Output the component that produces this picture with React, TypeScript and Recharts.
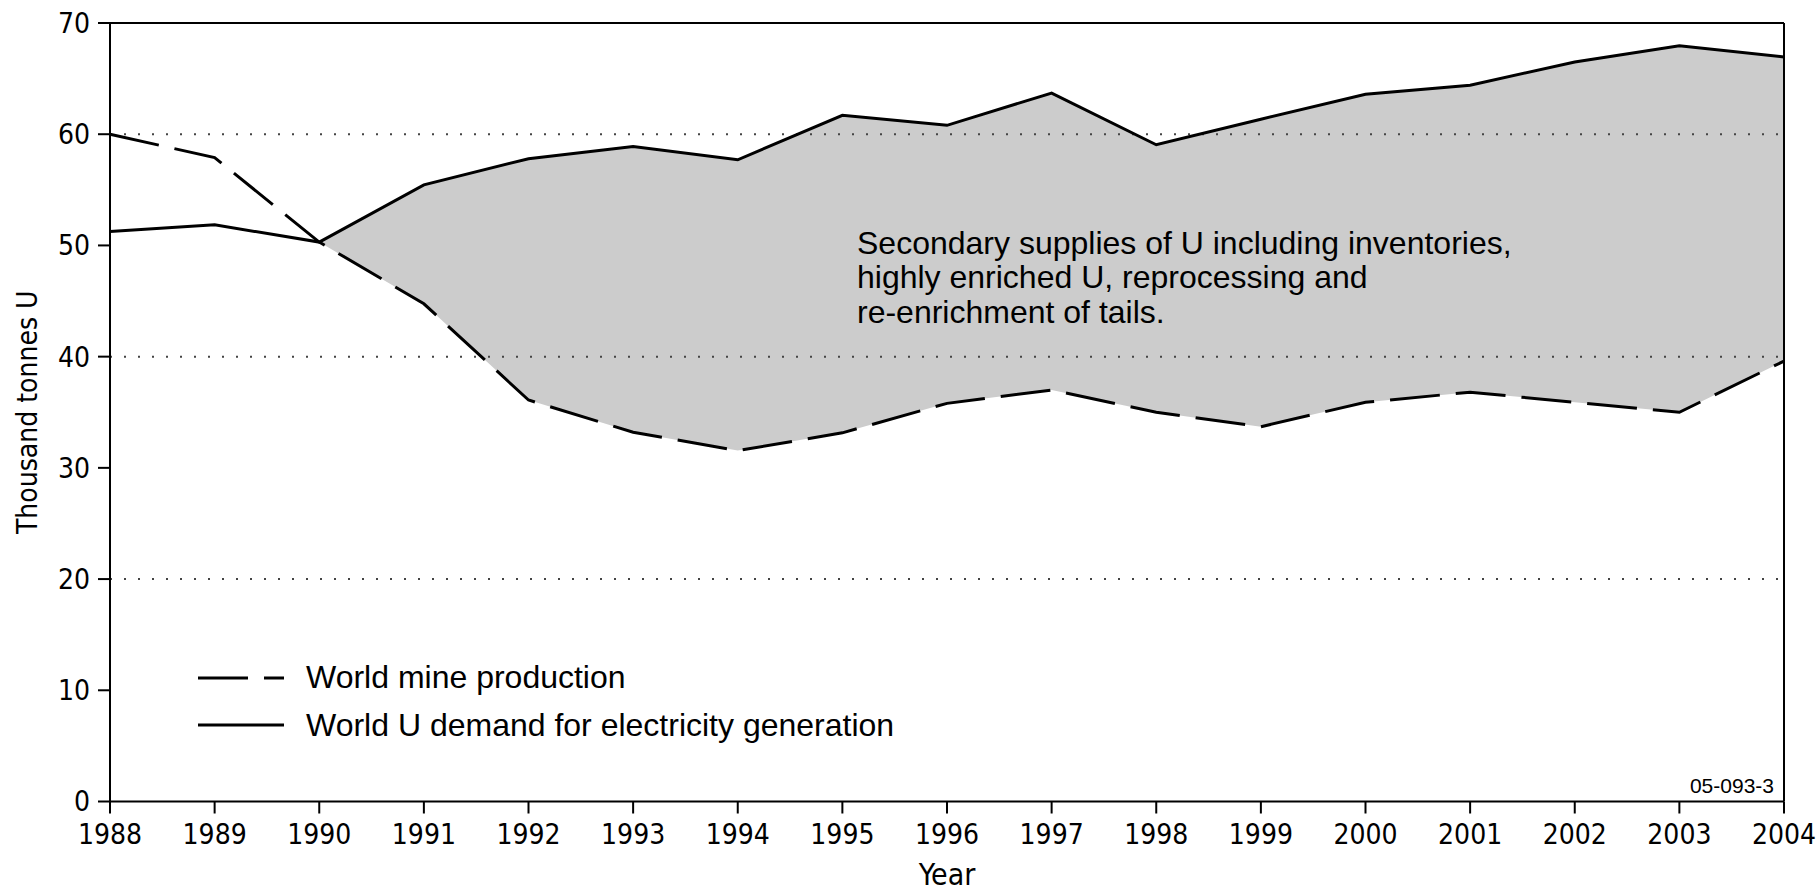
import {
  Area,
  ComposedChart,
  Legend,
  Line,
  ReferenceLine,
  XAxis,
  YAxis,
} from "recharts";

const years = [
  1988, 1989, 1990, 1991, 1992, 1993, 1994, 1995, 1996, 1997, 1998, 1999, 2000,
  2001, 2002, 2003, 2004,
];
const mineProduction = [
  60.0, 57.9, 50.3, 44.75, 36.1, 33.2, 31.55, 33.15, 35.8, 37.0, 35.0, 33.7,
  35.9, 36.8, 35.9, 35.0, 39.6,
];
const demandForElectricity = [
  51.25, 51.85, 50.3, 55.45, 57.8, 58.9, 57.7, 61.7, 60.8, 63.7, 59.05, 61.35,
  63.6, 64.4, 66.5, 67.95, 66.95,
];
const yTicks = [0, 10, 20, 30, 40, 50, 60, 70];
const dottedGridValues = [20, 40, 60];

const productionName = "World mine production";
const demandName = "World U demand for electricity generation";
const noteLines = [
  "Secondary supplies of U including inventories,",
  "highly enriched U, reprocessing and",
  "re-enrichment of tails.",
];
const figureId = "05-093-3";

const NARROW = '"Liberation Sans Narrow", "Arial Narrow", "DejaVu Sans Condensed", sans-serif';
const SANS = '"Liberation Sans", Arial, Helvetica, sans-serif';
const PRODUCTION_DASH = "50 16";

const chartData = years.map((year, i) => ({
  year,
  production: mineProduction[i],
  demand: demandForElectricity[i],
  // shaded band only where demand runs above mine production
  secondary:
    demandForElectricity[i] >= mineProduction[i]
      ? [mineProduction[i], demandForElectricity[i]]
      : null,
}));

function LegendBox({ payload }: { payload?: any[] }) {
  const order = [productionName, demandName];
  const items = (payload ?? [])
    .filter((p) => order.includes(p.value))
    .sort((a, b) => order.indexOf(a.value) - order.indexOf(b.value));
  return (
    <div>
      {items.map((entry) => {
        const dash =
          entry.payload?.strokeDasharray ??
          (entry.value === productionName ? PRODUCTION_DASH : undefined);
        return (
          <div
            key={entry.value}
            style={{ display: "flex", alignItems: "center", height: 47.5 }}
          >
            <svg width={86} height={6} style={{ display: "block" }}>
              <line
                x1={0}
                y1={3}
                x2={86}
                y2={3}
                stroke="#000"
                strokeWidth={3}
                strokeDasharray={dash}
              />
            </svg>
            <span
              style={{
                marginLeft: 22,
                fontFamily: SANS,
                fontSize: 32,
                lineHeight: "47.5px",
                color: "#000",
                whiteSpace: "nowrap",
              }}
            >
              {entry.value}
            </span>
          </div>
        );
      })}
    </div>
  );
}

export default function App() {
  return (
    <div
      style={{
        position: "absolute",
        left: 0,
        top: 0,
        width: 1816,
        height: 892,
        background: "#fff",
      }}
    >
      <ComposedChart
        width={1816}
        height={892}
        data={chartData}
        margin={{ top: 23, right: 32, bottom: 0, left: 0 }}
      >
        <XAxis
          dataKey="year"
          type="number"
          domain={[1988, 2004]}
          ticks={years}
          interval={0}
          height={90.5}
          tickSize={12}
          tickMargin={11}
          axisLine={{ stroke: "#000", strokeWidth: 2 }}
          tickLine={{ stroke: "#000", strokeWidth: 2 }}
          tick={{ fontSize: 28, fontFamily: NARROW, fill: "#000" }}
          label={{
            value: "Year",
            position: "insideBottom",
            offset: 7.5,
            fontSize: 30,
            fontFamily: NARROW,
            fill: "#000",
          }}
        />
        <YAxis
          type="number"
          domain={[0, 70]}
          ticks={yTicks}
          interval={0}
          width={110}
          tickSize={12}
          tickMargin={8}
          axisLine={{ stroke: "#000", strokeWidth: 2 }}
          tickLine={{ stroke: "#000", strokeWidth: 2 }}
          tick={{ fontSize: 28, fontFamily: NARROW, fill: "#000" }}
          label={{
            value: "Thousand tonnes U",
            angle: -90,
            position: "insideLeft",
            offset: 27,
            fontSize: 28,
            fontFamily: NARROW,
            fill: "#000",
            style: { textAnchor: "middle" },
          }}
        />
        <Area
          dataKey="secondary"
          type="linear"
          stroke="none"
          fill="#cccccc"
          fillOpacity={1}
          legendType="none"
          activeDot={false}
          isAnimationActive={false}
        />
        {dottedGridValues.map((v) => (
          <ReferenceLine
            key={v}
            y={v}
            stroke="#444"
            strokeWidth={2}
            strokeDasharray="2 12"
          />
        ))}
        <ReferenceLine y={70} stroke="#000" strokeWidth={2} />
        <ReferenceLine x={2004} stroke="#000" strokeWidth={2} />
        <Line
          dataKey="production"
          name={productionName}
          type="linear"
          stroke="#000"
          strokeWidth={3}
          strokeDasharray={PRODUCTION_DASH}
          dot={false}
          activeDot={false}
          isAnimationActive={false}
        />
        <Line
          dataKey="demand"
          name={demandName}
          type="linear"
          stroke="#000"
          strokeWidth={3}
          dot={false}
          activeDot={false}
          isAnimationActive={false}
        />
        <Legend
          layout="vertical"
          align="center"
          verticalAlign="middle"
          content={<LegendBox />}
          wrapperStyle={{ left: 198, top: 654, width: "auto", right: "auto" }}
        />
      </ComposedChart>
      <div
        style={{
          position: "absolute",
          left: 857,
          top: 225.5,
          fontFamily: SANS,
          fontSize: 32,
          lineHeight: "34.5px",
          color: "#000",
          whiteSpace: "nowrap",
          pointerEvents: "none",
        }}
      >
        {noteLines.map((line) => (
          <div key={line}>{line}</div>
        ))}
      </div>
      <div
        style={{
          position: "absolute",
          right: 42,
          top: 774.9,
          fontFamily: SANS,
          fontSize: 21,
          lineHeight: "21px",
          color: "#000",
          pointerEvents: "none",
        }}
      >
        {figureId}
      </div>
    </div>
  );
}
